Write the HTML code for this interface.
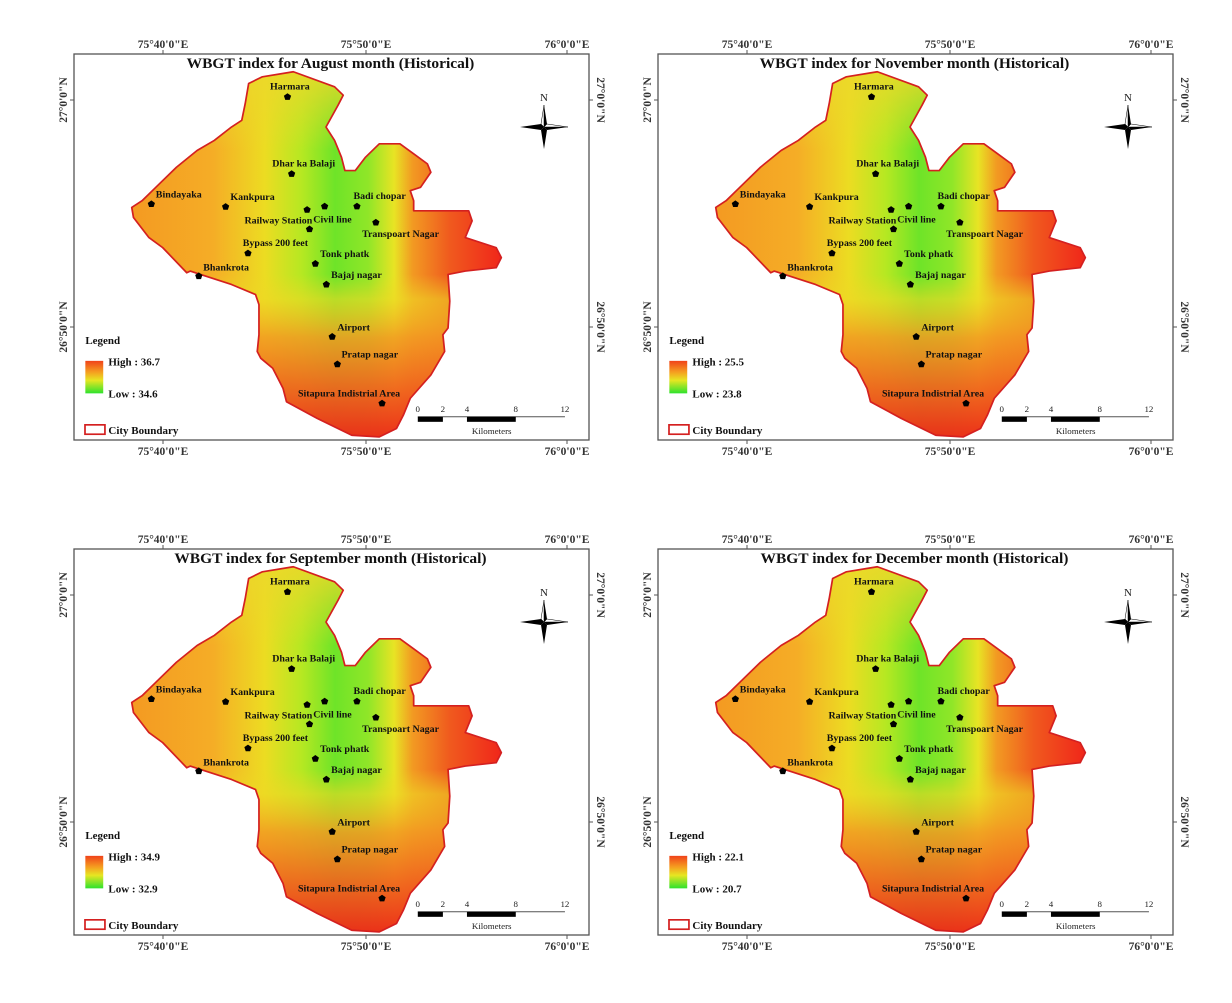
<!DOCTYPE html>
<html><head><meta charset="utf-8"><style>
html,body{margin:0;padding:0;background:#fff;}
svg{display:block;font-family:"Liberation Serif",serif;}
</style></head><body>
<svg id="root" width="1232" height="1003" viewBox="0 0 1232 1003" xmlns="http://www.w3.org/2000/svg">
<defs>
<linearGradient id="hgrad" gradientUnits="userSpaceOnUse" x1="180" y1="0" x2="1255" y2="0">
<stop offset="0" stop-color="#f49a22"/>
<stop offset="0.22" stop-color="#f5ad26"/>
<stop offset="0.36" stop-color="#ecdc22"/>
<stop offset="0.46" stop-color="#b6e822"/>
<stop offset="0.55" stop-color="#6ee428"/>
<stop offset="0.64" stop-color="#90e628"/>
<stop offset="0.71" stop-color="#e8e424"/>
<stop offset="0.76" stop-color="#f29a22"/>
<stop offset="0.86" stop-color="#f05a1e"/>
<stop offset="1" stop-color="#f0261a"/>
</linearGradient>
<linearGradient id="vbot" gradientUnits="userSpaceOnUse" x1="0" y1="700" x2="0" y2="1190">
<stop offset="0" stop-color="#eed824" stop-opacity="0"/>
<stop offset="0.15" stop-color="#eed824" stop-opacity="0.6"/>
<stop offset="0.38" stop-color="#f29a22" stop-opacity="0.85"/>
<stop offset="0.7" stop-color="#f0601e" stop-opacity="0.92"/>
<stop offset="1" stop-color="#ec2a18" stop-opacity="0.97"/>
</linearGradient>
<linearGradient id="vtop" gradientUnits="userSpaceOnUse" x1="0" y1="90" x2="0" y2="330">
<stop offset="0" stop-color="#ecd82a" stop-opacity="0.9"/>
<stop offset="1" stop-color="#ecd82a" stop-opacity="0"/>
</linearGradient>
<linearGradient id="legbar" x1="0" y1="0" x2="0" y2="1">
<stop offset="0" stop-color="#f0421a"/>
<stop offset="0.35" stop-color="#f5a020"/>
<stop offset="0.6" stop-color="#e6e622"/>
<stop offset="1" stop-color="#2ee22e"/>
</linearGradient>
<clipPath id="cityclip"><polygon id="citypoly" points=""/></clipPath>
</defs>
</svg>
<script>
const NS='http://www.w3.org/2000/svg';
const root=document.getElementById('root');
const boundary=[[520,130],[560,110],[650,95],[770,140],[795,165],[780,195],[745,260],[770,300],[790,350],[800,390],[830,390],[860,350],[900,310],[960,310],[1000,340],[1040,370],[1050,395],[1020,440],[990,450],[1000,480],[1000,510],[1160,510],[1170,540],[1150,590],[1240,620],[1255,650],[1240,680],[1150,690],[1100,700],[1105,780],[1100,860],[1085,880],[1090,930],[1050,1000],[990,1070],[970,1120],[950,1160],[900,1185],[820,1180],[720,1130],[630,1080],[620,1040],[590,980],[555,950],[545,930],[550,880],[550,790],[540,760],[470,730],[380,700],[350,690],[340,695],[270,620],[230,590],[185,530],[180,500],[210,480],[250,440],[310,380],[370,330],[420,300],[470,260],[500,240],[510,190]];
const ptsStr=boundary.map(p=>p.join(',')).join(' ');
document.getElementById('citypoly').setAttribute('points',ptsStr);
const places=[
['Harmara',633,170,640,148,'middle'],
['Dhar ka Balaji',645,400,680,378,'middle'],
['Bindayaka',237,490,250,470,'start'],
['Kankpura',453,498,467,478,'start'],
['Railway Station',697,565,705,548,'end'],
['Civil line',741,497,708,545,'start'],
['Badi chopar',835,497,825,475,'start'],
['Transpoart Nagar',890,545,850,588,'start'],
['Bypass 200 feet',518,637,503,615,'start'],
['Tonk phatk',714,668,728,648,'start'],
['Bhankrota',375,705,388,688,'start'],
['Bajaj nagar',746,730,760,710,'start'],
['Airport',763,886,778,867,'start'],
['Pratap nagar',778,968,790,948,'start'],
['Sitapura Indistrial Area',908,1085,812,1065,'middle']];
const extraDots=[[690,507]];
const panels=[
{ox:0,oy:0,month:'August',hi:'36.7',lo:'34.6'},
{ox:584,oy:0,month:'November',hi:'25.5',lo:'23.8'},
{ox:0,oy:495,month:'September',hi:'34.9',lo:'32.9'},
{ox:584,oy:495,month:'December',hi:'22.1',lo:'20.7'}];
function mk(tag,attrs,parent){const e=document.createElementNS(NS,tag);for(const k in attrs)e.setAttribute(k,attrs[k]);parent.appendChild(e);return e;}
function pent(cx,cy,r){let s=[];for(let i=0;i<5;i++){const a=-Math.PI/2+i*2*Math.PI/5;s.push((cx+r*Math.cos(a)).toFixed(1)+','+(cy+r*Math.sin(a)).toFixed(1));}return s.join(' ');}
panels.forEach(P=>{
 const key=P.month.toLowerCase();
 const g=mk('g',{transform:`translate(${P.ox},${P.oy})`},root);
 
 
 const frame=mk('rect',{x:74,y:54,width:515,height:386,fill:'none',stroke:'#555','stroke-width':1.3},g);
 
 
 const lons=[['75°40\'0"E',163],['75°50\'0"E',366],['76°0\'0"E',567]];
 lons.forEach(L=>{
  mk('line',{x1:L[1],y1:54,x2:L[1],y2:50,stroke:'#555'},g);
  mk('line',{x1:L[1],y1:440,x2:L[1],y2:444,stroke:'#555'},g);
  const t=mk('text',{x:L[1],y:48,'text-anchor':'middle','font-size':11.5,'font-weight':'bold',fill:'#333'},g);
  t.textContent=L[0];
  
  
  const b=mk('text',{x:L[1],y:455,'text-anchor':'middle','font-size':11.5,'font-weight':'bold',fill:'#333'},g);
  b.textContent=L[0];
  
  
 });
 const lats=[['27°0\'0"N',100],['26°50\'0"N',327]];
 lats.forEach(L=>{
  mk('line',{x1:74,y1:L[1],x2:70,y2:L[1],stroke:'#555'},g);
  mk('line',{x1:589,y1:L[1],x2:593,y2:L[1],stroke:'#555'},g);
  const t=mk('text',{x:0,y:0,transform:`translate(67,${L[1]}) rotate(-90)`,'text-anchor':'middle','font-size':11.5,'font-weight':'bold',fill:'#333'},g);
  t.textContent=L[0];
  
  
  const r=mk('text',{x:0,y:0,transform:`translate(597,${L[1]}) rotate(90)`,'text-anchor':'middle','font-size':11.5,'font-weight':'bold',fill:'#333'},g);
  r.textContent=L[0];
  
  
 });
 const m=mk('g',{transform:'translate(69.87,39.93) scale(0.3438,0.335)'},g);
 const title=mk('text',{x:758,y:84,'text-anchor':'middle','font-size':45,'font-weight':'bold',fill:'#111'},m);
 title.textContent='WBGT index for '+P.month+' month (Historical)';
 
 
 const heat=mk('g',{'clip-path':'url(#cityclip)'},m);
 
 
 mk('rect',{x:170,y:90,width:1100,height:1110,fill:'url(#hgrad)'},heat);
 mk('rect',{x:170,y:90,width:1100,height:260,fill:'url(#vtop)'},heat);
 mk('rect',{x:170,y:700,width:1100,height:500,fill:'url(#vbot)'},heat);
 const bd=mk('polygon',{points:ptsStr,fill:'none',stroke:'#d42020','stroke-width':5,'stroke-linejoin':'round'},m);
 
 
 extraDots.forEach(d=>{
  const p=mk('polygon',{points:pent(d[0],d[1],11),fill:'#000'},m);
  
  
 });
 places.forEach(pl=>{
  const p=mk('polygon',{points:pent(pl[1],pl[2],11),fill:'#000'},m);
  
  
  const t=mk('text',{x:pl[3],y:pl[4],'text-anchor':pl[5],'font-size':29,'font-weight':'bold',fill:'#111'},m);
  t.textContent=pl[0];
  
  
 });
 const lg=mk('g',{},m);
 
 
 const lt=mk('text',{x:45,y:908,'font-size':32,'font-weight':'bold',fill:'#111'},lg);
 lt.textContent='Legend';
 mk('rect',{x:45,y:958,width:52,height:97,fill:'url(#legbar)'},lg);
 const hi=mk('text',{x:112,y:972,'font-size':32,'font-weight':'bold',fill:'#111'},lg);
 hi.textContent='High : '+P.hi;
 
 
 const lo=mk('text',{x:112,y:1068,'font-size':32,'font-weight':'bold',fill:'#111'},lg);
 lo.textContent='Low : '+P.lo;
 
 
 mk('rect',{x:44,y:1149,width:58,height:28,fill:'#fff',stroke:'#d42020','stroke-width':5},lg);
 const cb=mk('text',{x:112,y:1176,'font-size':32,'font-weight':'bold',fill:'#111'},lg);
 cb.textContent='City Boundary';
 
 
 const sb=mk('g',{},m);
 
 
 mk('line',{x1:1012,y1:1125,x2:1440,y2:1125,stroke:'#555','stroke-width':3},sb);
 mk('rect',{x:1012,y:1125,width:73,height:15,fill:'#000'},sb);
 mk('rect',{x:1155,y:1125,width:142,height:15,fill:'#000'},sb);
 [['0',1012],['2',1085],['4',1155],['8',1297],['12',1440]].forEach(s=>{
  const t=mk('text',{x:s[1],y:1110,'text-anchor':'middle','font-size':26,fill:'#222'},sb);
  t.textContent=s[0];
 });
 const km=mk('text',{x:1227,y:1177,'text-anchor':'middle','font-size':26,fill:'#222'},sb);
 km.textContent='Kilometers';
 const na=mk('g',{transform:`translate(${544},${127})`},g);
 
 
 mk('polygon',{points:'0,-22 3,-3 0,0 -3,-3',fill:'#000'},na);
 mk('polygon',{points:'0,22 3,3 0,0 -3,3',fill:'#000'},na);
 mk('polygon',{points:'-24,0 -3,-3 0,0 -3,3',fill:'#000'},na);
 mk('polygon',{points:'24,0 3,3 0,0 3,-3',fill:'#000'},na);
 mk('polygon',{points:'0,-22 -3,-3 0,0',fill:'#fff',stroke:'#000','stroke-width':0.5},na);
 mk('polygon',{points:'24,0 3,-3 0,0',fill:'#fff',stroke:'#000','stroke-width':0.5},na);
 const nt=mk('text',{x:0,y:-26,'text-anchor':'middle','font-size':11,fill:'#222'},na);
 nt.textContent='N';
});
</script>
</body></html>
